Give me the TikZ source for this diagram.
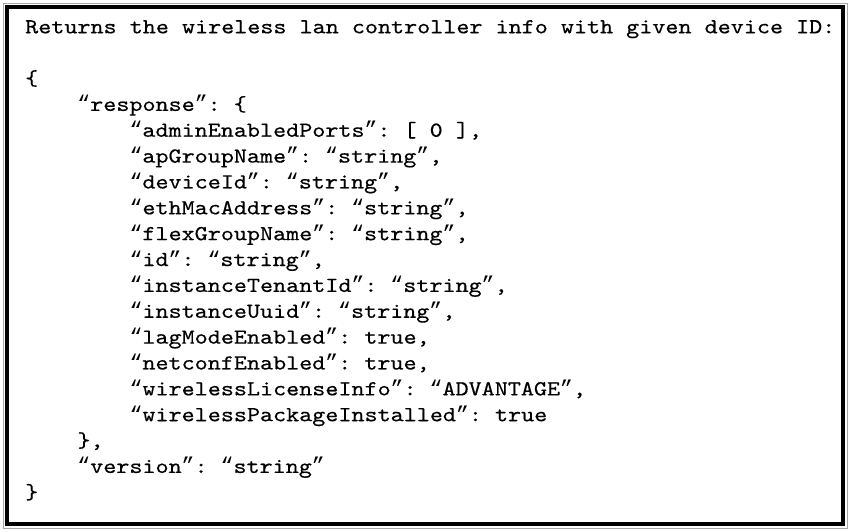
\documentclass[tikz,border=0pt]{standalone}
\usepackage{fontspec}
\setmonofont{lmmono10-regular}[Extension=.otf,FakeStretch=1.163,FakeBold=0.4]
\newfontfamily\quotefont{Liberation Mono}
\newcommand\oqt{{\quotefont “}}
\newcommand\cqt{{\quotefont ”}}
\usepackage{tikz}
\usetikzlibrary{positioning, calc}

\begin{document}
\begin{tikzpicture}[x=1pt,y=-1pt,draw=black!100]
	\def \firstrow{33.3}
	\def \rowgap{25.86}
	\def \leftedge{25}
	\def \indent{52.2}
	\tikzstyle{c-line}=[anchor=base west,inner sep=0pt,font=\ttfamily\fontsize{21.4pt}{25.86pt}\selectfont]
	\tikzstyle{outer-frame}=[draw=black!35,line width=1pt]
	\tikzstyle{inner-frame}=[draw=black,line width=4pt]
	\useasboundingbox (0,0) rectangle (853,531);
	% frame
	\draw[outer-frame] (3,3) rectangle (847,528);
	\draw[inner-frame] (7,7) rectangle (843,524);
	
	% heading
	\node[c-line] 	(head)	at (\leftedge,\firstrow)		{Returns the wireless lan controller info with given device ID:};
	
	% outer object
	\node[c-line] 	(open)	at (\leftedge,\firstrow+2*\rowgap)		{\{};
	\node[c-line] 	(resp)	at (\leftedge+\indent,\firstrow+3*\rowgap)		{\oqt response\cqt: \{};
	
	% response fields
	\node[c-line] 	(f0)	at (\leftedge+2*\indent,\firstrow+4*\rowgap)		{\oqt adminEnabledPorts\cqt: [ 0 ],};
	\node[c-line] 	(f1)	at (\leftedge+2*\indent,\firstrow+5*\rowgap)		{\oqt apGroupName\cqt: \oqt string\cqt,};
	\node[c-line] 	(f2)	at (\leftedge+2*\indent,\firstrow+6*\rowgap)		{\oqt deviceId\cqt: \oqt string\cqt,};
	\node[c-line] 	(f3)	at (\leftedge+2*\indent,\firstrow+7*\rowgap)		{\oqt ethMacAddress\cqt: \oqt string\cqt,};
	\node[c-line] 	(f4)	at (\leftedge+2*\indent,\firstrow+8*\rowgap)		{\oqt flexGroupName\cqt: \oqt string\cqt,};
	\node[c-line] 	(f5)	at (\leftedge+2*\indent,\firstrow+9*\rowgap)		{\oqt id\cqt: \oqt string\cqt,};
	\node[c-line] 	(f6)	at (\leftedge+2*\indent,\firstrow+10*\rowgap)		{\oqt instanceTenantId\cqt: \oqt string\cqt,};
	\node[c-line] 	(f7)	at (\leftedge+2*\indent,\firstrow+11*\rowgap)		{\oqt instanceUuid\cqt: \oqt string\cqt,};
	\node[c-line] 	(f8)	at (\leftedge+2*\indent,\firstrow+12*\rowgap)		{\oqt lagModeEnabled\cqt: true,};
	\node[c-line] 	(f9)	at (\leftedge+2*\indent,\firstrow+13*\rowgap)		{\oqt netconfEnabled\cqt: true,};
	\node[c-line] 	(f10)	at (\leftedge+2*\indent,\firstrow+14*\rowgap)		{\oqt wirelessLicenseInfo\cqt: \oqt ADVANTAGE\cqt,};
	\node[c-line] 	(f11)	at (\leftedge+2*\indent,\firstrow+15*\rowgap)		{\oqt wirelessPackageInstalled\cqt: true};
	
	% closing
	\node[c-line] 	(respend)	at (\leftedge+\indent,\firstrow+16*\rowgap)		{\},};
	\node[c-line] 	(vers)	at (\leftedge+\indent,\firstrow+17*\rowgap)		{\oqt version\cqt: \oqt string\cqt};
	\node[c-line] 	(close)	at (\leftedge,\firstrow+18*\rowgap)		{\}};
\end{tikzpicture}
\end{document}
